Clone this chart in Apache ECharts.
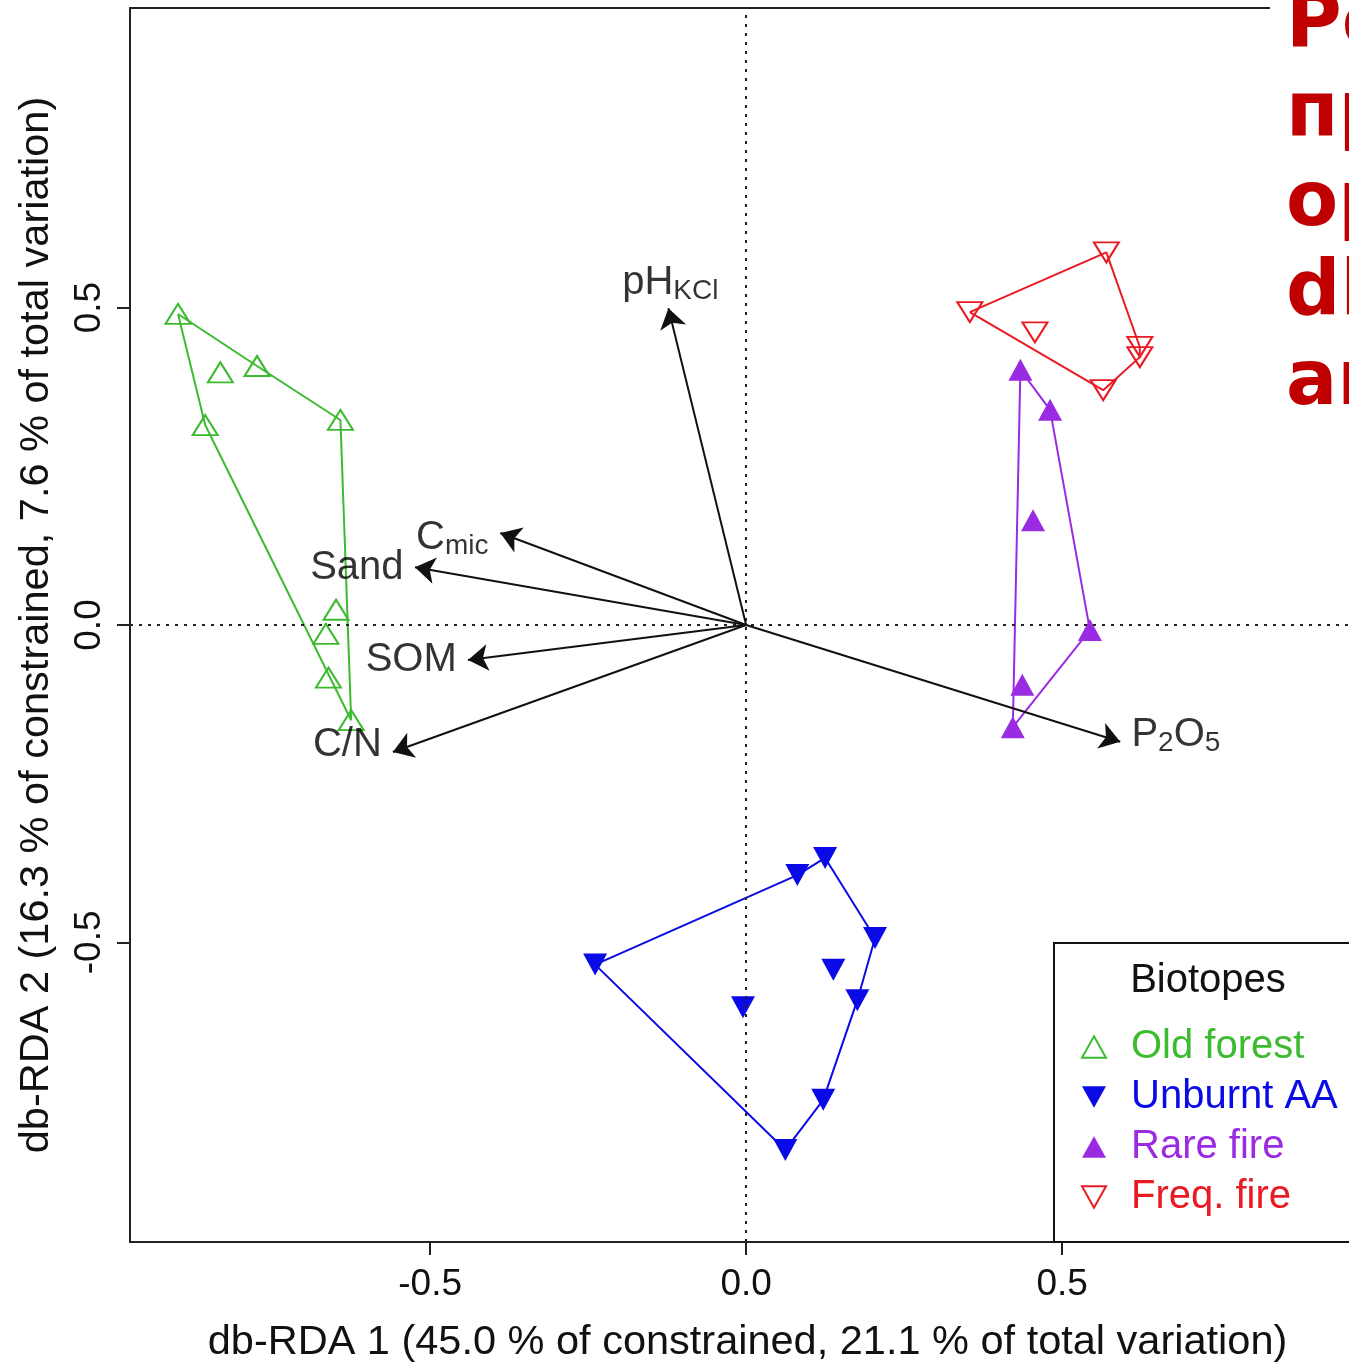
<!DOCTYPE html>
<html>
<head>
<meta charset="utf-8">
<script src="https://cdn.jsdelivr.net/npm/echarts@6/dist/echarts.min.js"></script>
<style>
  html, body { margin: 0; padding: 0; background: #fff; }
  #chart { width: 1349px; height: 1365px; }
</style>
</head>
<body>
<div id="chart"></div>
<script>
// biotope groups (site scores)
const groups = ['Old forest', 'Unburnt AA', 'Rare fire', 'Freq. fire'];
const groupColors = ['#3dbb30', '#0a0ae6', '#9a2be2', '#ea1a22'];

const oldForest = [[-0.899, 0.490], [-0.832, 0.398], [-0.774, 0.408], [-0.642, 0.323], [-0.856, 0.315],
  [-0.649, 0.024], [-0.665, -0.014], [-0.661, -0.083], [-0.625, -0.150]];
const oldForestHull = [0, 2, 3, 8, 4, 0];

const unburnt = [[-0.239, -0.535], [0.081, -0.394], [0.125, -0.367], [0.204, -0.493], [0.138, -0.543],
  [0.176, -0.591], [-0.005, -0.602], [0.122, -0.748], [0.062, -0.827]];
const unburntHull = [0, 1, 2, 3, 5, 7, 8, 0];

const rareFire = [[0.434, 0.402], [0.481, 0.339], [0.454, 0.165], [0.544, -0.008], [0.437, -0.094], [0.422, -0.161]];
const rareFireHull = [0, 1, 3, 5, 0];

const freqFire = [[0.570, 0.587], [0.354, 0.493], [0.457, 0.461], [0.623, 0.438], [0.623, 0.422], [0.565, 0.370]];
const freqFireHull = [1, 0, 3, 4, 5, 1];

// environmental vectors
const vectorTips = [[-0.123, 0.499], [-0.389, 0.145], [-0.524, 0.091], [-0.440, -0.055], [-0.559, -0.200], [0.592, -0.184]];
const vectorLabelPos = [[-0.120, 0.539], [-0.465, 0.137], [-0.616, 0.090], [-0.530, -0.055], [-0.631, -0.189], [0.680, -0.173]];
const vectorLabels = ['{m|pH}{s|KCl}', '{m|C}{s|mic}', '{m|Sand}', '{m|SOM}', '{m|C/N}', '{m|P}{s|2}{m|O}{s|5}'];

const xTicks = [-0.5, 0, 0.5];
const yTicks = [-0.5, 0, 0.5];
const xTitle = 'db-RDA 1 (45.0 % of constrained, 21.1 % of total variation)';
const yTitle = 'db-RDA 2 (16.3 % of constrained, 7.6 % of total variation)';
const sideText = ['Po', 'пр', 'ор', 'dl', 'ar'];

const FONT = '"Liberation Sans", Arial, sans-serif';
const groupPoints = [oldForest, unburnt, rareFire, freqFire];
const groupHulls = [oldForestHull, unburntHull, rareFireHull, freqFireHull];
const filled = [false, true, true, false];
const down = [false, true, false, true];
const UP = 'path://M5,0 L10,9 L0,9 Z';
const DOWN = 'path://M0,0 L10,0 L5,9 Z';

const chart = echarts.init(document.getElementById('chart'));

const series = [];
groupPoints.forEach((pts, i) => {
  series.push({
    name: groups[i] + ' hull',
    type: 'line',
    data: groupHulls[i].map(k => pts[k]),
    symbol: 'none',
    silent: true,
    lineStyle: { color: groupColors[i], width: 2 },
    z: 3
  });
});
groupPoints.forEach((pts, i) => {
  series.push({
    name: groups[i],
    type: 'scatter',
    data: pts,
    symbol: 'triangle',
    symbolSize: filled[i] ? [24, 22] : [25, 20],
    symbolRotate: down[i] ? 180 : 0,
    itemStyle: filled[i]
      ? { color: groupColors[i], opacity: 1 }
      : { color: 'rgba(255,255,255,0)', borderColor: groupColors[i], borderWidth: 2, opacity: 1 },
    z: 4
  });
});

series.push({
  name: 'vectors',
  type: 'lines',
  coordinateSystem: 'cartesian2d',
  data: vectorTips.map(t => ({ coords: [[0, 0], t] })),
  symbol: ['none', 'arrow'],
  symbolSize: 20,
  silent: true,
  lineStyle: { color: '#111', width: 2, opacity: 1 },
  z: 5,
  markLine: {
    silent: true,
    symbol: 'none',
    label: { show: false },
    lineStyle: { color: '#222', type: [3, 6], width: 2 },
    data: [{ xAxis: 0 }, { yAxis: 0 }]
  }
});

series.push({
  name: 'vector labels',
  type: 'scatter',
  data: vectorLabelPos,
  symbolSize: 0,
  silent: true,
  z: 6,
  label: {
    show: true,
    position: 'inside',
    formatter: p => vectorLabels[p.dataIndex],
    rich: {
      m: { fontSize: 40, fontFamily: FONT, color: '#000' },
      s: { fontSize: 28, fontFamily: FONT, color: '#000', padding: [16, 0, 0, 0] }
    }
  }
});

const xRange = { type: 'value', min: -0.975, max: 0.954, splitLine: { show: false } };

chart.setOption({
  animation: false,
  backgroundColor: '#fff',
  grid: { left: 130, top: 8, right: 0, height: 1234, show: false, outerBoundsMode: 'none', containLabel: false },
  xAxis: [
    Object.assign({}, xRange, {
      position: 'bottom',
      axisLine: { show: true, onZero: false, lineStyle: { color: '#222', width: 2 } },
      axisTick: { show: true, customValues: xTicks, length: 13, lineStyle: { color: '#222', width: 2 } },
      axisLabel: { customValues: xTicks, formatter: v => v.toFixed(1), fontSize: 37, fontFamily: FONT, color: '#111', margin: 24 },
      name: xTitle, nameLocation: 'middle', nameGap: 80,
      nameTextStyle: { fontSize: 41.5, fontFamily: FONT, color: '#111', padding: [0, 0, 0, 16] }
    }),
    Object.assign({}, xRange, {
      position: 'top',
      axisLine: { show: true, onZero: false, lineStyle: { color: '#222', width: 2 } },
      axisTick: { show: false },
      axisLabel: { show: false }
    })
  ],
  yAxis: {
    type: 'value', min: -0.972, max: 0.972,
    axisLine: { show: true, onZero: false, lineStyle: { color: '#222', width: 2 } },
    axisTick: { show: true, customValues: yTicks, length: 13, lineStyle: { color: '#222', width: 2 } },
    axisLabel: { customValues: yTicks, formatter: v => v.toFixed(1), rotate: 90, fontSize: 37, fontFamily: FONT, color: '#111', margin: 22 },
    splitLine: { show: false },
    name: yTitle, nameLocation: 'middle', nameGap: 72, nameRotate: 90,
    nameTextStyle: { fontSize: 41.5, fontFamily: FONT, color: '#111' }
  },
  legend: {
    orient: 'vertical', left: 1081, top: 1027, padding: 0,
    itemGap: 10, itemWidth: 24, itemHeight: 22,
    selectedMode: false, z: 20,
    data: groups.map((g, i) => ({
      name: g,
      icon: down[i] ? DOWN : UP,
      textStyle: { color: groupColors[i], padding: [0, 0, 0, 20] }
    })),
    textStyle: { fontSize: 40, fontFamily: FONT, lineHeight: 40 }
  },
  graphic: [
    {
      type: 'rect', z: 10,
      shape: { x: 1054, y: 943, width: 400, height: 299 },
      style: { fill: '#fff', stroke: '#111', lineWidth: 2 }
    },
    {
      type: 'text', z: 21,
      style: { x: 1208, y: 981, text: 'Biotopes', font: '40px ' + FONT, fill: '#111', textAlign: 'center', textVerticalAlign: 'middle' }
    },
    {
      type: 'rect', z: 30,
      shape: { x: 1270, y: 0, width: 90, height: 430 },
      style: { fill: '#fff' }
    }
  ].concat(sideText.map((t, i) => ({
    type: 'text', z: 31,
    style: {
      x: 1286, y: 26 + i * 89.5, text: t,
      font: 'bold 76px "DejaVu Sans", sans-serif', fill: '#c00000',
      textAlign: 'left', textVerticalAlign: 'middle'
    }
  }))),
  series: series
});
</script>
</body>
</html>
